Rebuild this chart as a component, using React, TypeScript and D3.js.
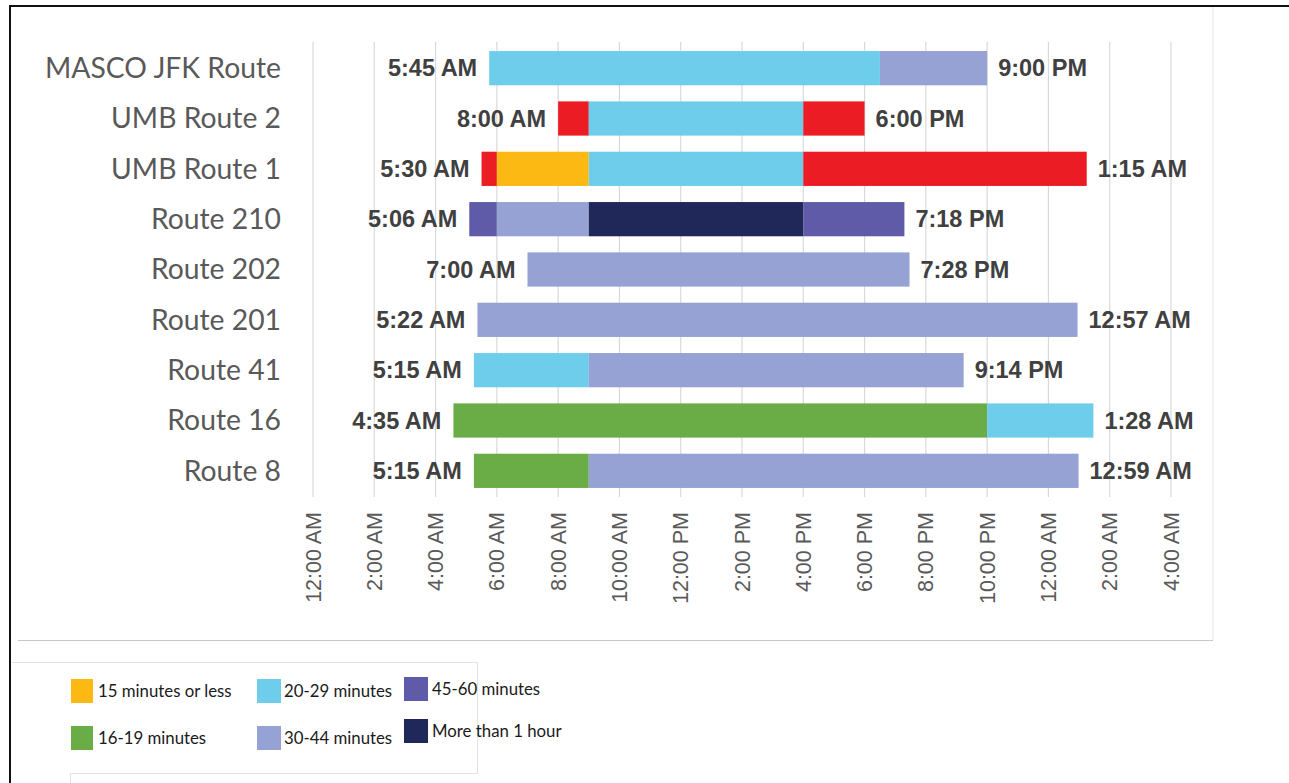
import React, { useEffect, useRef } from 'react';
import * as d3 from 'd3';

// routes top to bottom
const routes = ['MASCO JFK Route', 'UMB Route 2', 'UMB Route 1', 'Route 210', 'Route 202', 'Route 201', 'Route 41', 'Route 16', 'Route 8'];
// segments per route: [route, start hour, end hour, frequency class]
const segments: [string, number, number, string][] = [
  ['MASCO JFK Route', 5.75, 18.5, 'c20'],
  ['MASCO JFK Route', 18.5, 22, 'c30'],
  ['UMB Route 2', 8, 9, 'red'],
  ['UMB Route 2', 9, 16, 'c20'],
  ['UMB Route 2', 16, 18, 'red'],
  ['UMB Route 1', 5.5, 6, 'red'],
  ['UMB Route 1', 6, 9, 'c15'],
  ['UMB Route 1', 9, 16, 'c20'],
  ['UMB Route 1', 16, 25.25, 'red'],
  ['Route 210', 5.1, 6, 'c45'],
  ['Route 210', 6, 9, 'c30'],
  ['Route 210', 9, 16, 'c60'],
  ['Route 210', 16, 19.3, 'c45'],
  ['Route 202', 7, 19.467, 'c30'],
  ['Route 201', 5.367, 24.95, 'c30'],
  ['Route 41', 5.25, 9, 'c20'],
  ['Route 41', 9, 21.233, 'c30'],
  ['Route 16', 4.583, 22, 'c16'],
  ['Route 16', 22, 25.467, 'c20'],
  ['Route 8', 5.25, 9, 'c16'],
  ['Route 8', 9, 24.983, 'c30'],
];
const startLabels = ['5:45 AM', '8:00 AM', '5:30 AM', '5:06 AM', '7:00 AM', '5:22 AM', '5:15 AM', '4:35 AM', '5:15 AM'];
const endLabels = ['9:00 PM', '6:00 PM', '1:15 AM', '7:18 PM', '7:28 PM', '12:57 AM', '9:14 PM', '1:28 AM', '12:59 AM'];
const tickHours = [0, 2, 4, 6, 8, 10, 12, 14, 16, 18, 20, 22, 24, 26, 28];
const tickLabels = ['12:00 AM', '2:00 AM', '4:00 AM', '6:00 AM', '8:00 AM', '10:00 AM', '12:00 PM', '2:00 PM', '4:00 PM', '6:00 PM', '8:00 PM', '10:00 PM', '12:00 AM', '2:00 AM', '4:00 AM'];
const legendKeys = ['c15', 'c20', 'c45', 'c16', 'c30', 'c60'];
const legendLabels = ['15 minutes or less', '20-29 minutes', '45-60 minutes', '16-19 minutes', '30-44 minutes', 'More than 1 hour'];
const colors: Record<string, string> = {
  c15: '#fdb913', c16: '#6aac46', c20: '#6dcdeb', c30: '#96a2d4', c45: '#5f5ba9', c60: '#1f2858', red: '#ec1c24',
};

export default function App() {
  const ref = useRef<SVGSVGElement>(null);

  useEffect(() => {
    const width = 1289;
    const height = 783;
    const svg = d3.select(ref.current)
      .attr('width', width)
      .attr('height', height);
    svg.selectAll('*').remove();

    svg.append('rect').attr('width', width).attr('height', height).attr('fill', '#fff');

    const x = d3.scaleLinear().domain([0, 28]).range([313, 1171]);
    const y = d3.scaleBand().domain(routes).range([43, 496]).paddingInner(0.32).paddingOuter(0.16);

    // frame
    svg.append('line').attr('x1', 9).attr('x2', width).attr('y1', 6).attr('y2', 6).attr('stroke', '#111').attr('stroke-width', 2);
    svg.append('line').attr('x1', 10).attr('x2', 10).attr('y1', 5).attr('y2', height).attr('stroke', '#111').attr('stroke-width', 2);
    svg.append('line').attr('x1', 1213).attr('x2', 1213).attr('y1', 7).attr('y2', 640).attr('stroke', '#e6e6e6');
    svg.append('line').attr('x1', 18).attr('x2', 1213).attr('y1', 640.5).attr('y2', 640.5).attr('stroke', '#c8c8c8');

    // grid
    svg.append('g').selectAll('line').data(tickHours).join('line')
      .attr('x1', d => x(d)).attr('x2', d => x(d))
      .attr('y1', 42).attr('y2', 497)
      .attr('stroke', '#d9d9d9').attr('stroke-width', 1.2);

    svg.append('g').selectAll('text').data(tickHours).join('text')
      .attr('transform', d => `translate(${x(d)},512) rotate(-90)`)
      .attr('text-anchor', 'end')
      .attr('dy', '0.35em')
      .attr('font-family', 'Liberation Sans, Arial, sans-serif')
      .attr('font-size', 21.5)
      .attr('fill', '#595959')
      .text((d, i) => tickLabels[i]);

    // category labels
    svg.append('g').selectAll('text').data(routes).join('text')
      .attr('x', 281)
      .attr('y', d => y(d)! + y.bandwidth() / 2)
      .attr('dy', '0.35em')
      .attr('text-anchor', 'end')
      .attr('font-family', 'Lato, sans-serif')
      .attr('font-size', 28.3)
      .attr('fill', '#595959')
      .text(d => d);

    // bars
    svg.append('g').selectAll('rect').data(segments).join('rect')
      .attr('x', d => x(d[1]))
      .attr('width', d => x(d[2]) - x(d[1]))
      .attr('y', d => y(d[0])!)
      .attr('height', y.bandwidth())
      .attr('fill', d => colors[d[3]]);

    const first = routes.map(r => d3.min(segments.filter(s => s[0] === r), s => s[1])!);
    const last = routes.map(r => d3.max(segments.filter(s => s[0] === r), s => s[2])!);

    const lab = svg.append('g')
      .attr('font-family', 'Liberation Sans, Arial, sans-serif')
      .attr('font-weight', 'bold')
      .attr('font-size', 23.5)
      .attr('fill', '#404040');
    lab.selectAll('text.s').data(routes).join('text').attr('class', 's')
      .attr('x', (d, i) => x(first[i]) - 12)
      .attr('y', d => y(d)! + y.bandwidth() / 2)
      .attr('dy', '0.35em')
      .attr('text-anchor', 'end')
      .text((d, i) => startLabels[i]);
    lab.selectAll('text.e').data(routes).join('text').attr('class', 'e')
      .attr('x', (d, i) => x(last[i]) + 11)
      .attr('y', d => y(d)! + y.bandwidth() / 2)
      .attr('dy', '0.35em')
      .text((d, i) => endLabels[i]);

    // legend
    svg.append('path').attr('d', 'M12,662.5H477.5V773.5H70.5V783').attr('fill', 'none').attr('stroke', '#e3e3e3');
    const lx = [71, 257, 404];
    const ly = [679, 726];
    const leg = svg.append('g').selectAll('g').data(legendKeys).join('g')
      .attr('transform', (d, i) => `translate(${lx[i % 3]},${ly[Math.floor(i / 3)] - (i % 3 === 2 ? (i < 3 ? 2 : 7) : 0)})`);
    leg.append('rect').attr('width', (d, i) => (i % 3 === 0 ? 22 : 24)).attr('height', 24).attr('fill', d => colors[d]);
    leg.append('text')
      .attr('x', (d, i) => (i % 3 === 2 ? 28 : 27))
      .attr('y', 12)
      .attr('dy', '0.35em')
      .attr('font-family', 'Lato, sans-serif')
      .attr('font-size', 16.8)
      .attr('fill', '#1a1a1a')
      .text((d, i) => legendLabels[i]);
  }, []);

  return <svg ref={ref} style={{ position: 'absolute', left: 0, top: 0 }}></svg>;
}
